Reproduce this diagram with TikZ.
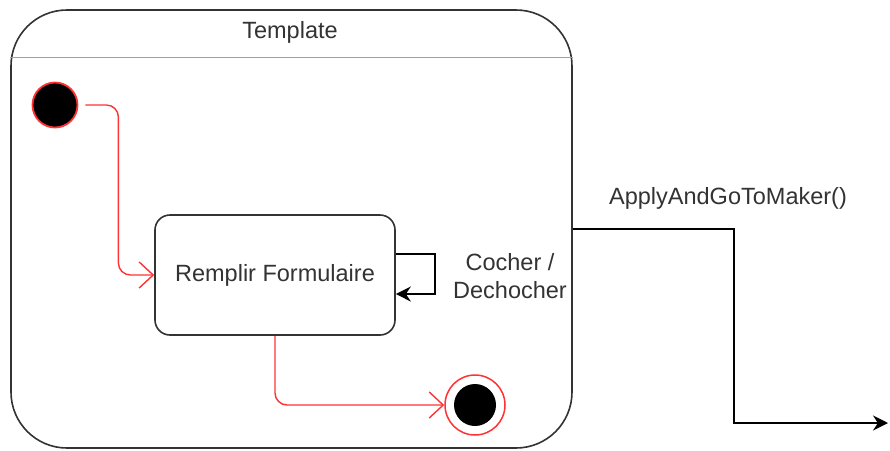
\documentclass[tikz,border=0pt]{standalone}
\usepackage{fontspec}
\setmainfont{Liberation Sans}
\usetikzlibrary{arrows.meta,calc}
\definecolor{redline}{HTML}{FF3333}
\definecolor{darkline}{HTML}{333333}
\definecolor{sepline}{HTML}{A0A0A0}
\tikzset{
  lbl/.style={font=\fontsize{23.5}{28}\selectfont, text=darkline, align=center, inner sep=0},
  container/.style={draw=darkline, line width=1.6pt, rounded corners=56, minimum width=561, minimum height=438, inner sep=0},
  statebox/.style={draw=darkline, line width=1.6pt, rounded corners=15, minimum width=240, minimum height=120, font=\fontsize{23.5}{28}\selectfont, text=darkline},
  redflow/.style={draw=redline, line width=1.4pt, rounded corners=12, -{Straight Barb[length=14pt,width=26pt,line width=1.4pt]}},
  blackflow/.style={draw=black, line width=1.8pt, -{Stealth[length=15pt,width=15pt]}}
}
\begin{document}
\begin{tikzpicture}[x=1pt,y=-1pt]
\useasboundingbox[fill=white] (0,0) rectangle (890,450);
% container
\node[container] (tmpl) at (291.5,229) {};
\draw[sepline, line width=1.2pt] ($(tmpl.north west)+(0,48)$) coordinate (sepl) -- ($(tmpl.north east)+(0,48)$) coordinate (sepr);
\node[lbl] (title) at (290,32) {Template};
% initial state
\node[circle, fill=black, draw=redline, line width=1.8pt, minimum size=45, inner sep=0] (init) at (55,105) {};
% main state
\node[statebox] (box) at (275,275) {Remplir Formulaire};
% final state
\node[circle, draw=redline, line width=1.5pt, minimum size=60, inner sep=0] (fin) at (475,405) {};
\node[circle, fill=black, minimum size=42, inner sep=0] (fincore) at (fin) {};
% transitions
\draw[redflow] ([xshift=7pt]init.east) -- ++(33,0) |- (box.west);
\draw[redflow] (box.south) |- (fin.west);
% self loop
\draw[blackflow, line width=1.6pt] ($(box.east)+(0,-21)$) -- ++(39,0) -- ++(0,40) -- ($(box.east)+(0,19)$);
\node[lbl] (looplbl) at (510,276) {Cocher /\\Dechocher};
% exit
\coordinate (exitend) at (888,423);
\draw[blackflow, line width=1.8pt] (tmpl.east) -- ++(161,0) |- (exitend);
\node[lbl] (exitlbl) at (728,198) {ApplyAndGoToMaker()};
\end{tikzpicture}
\end{document}
